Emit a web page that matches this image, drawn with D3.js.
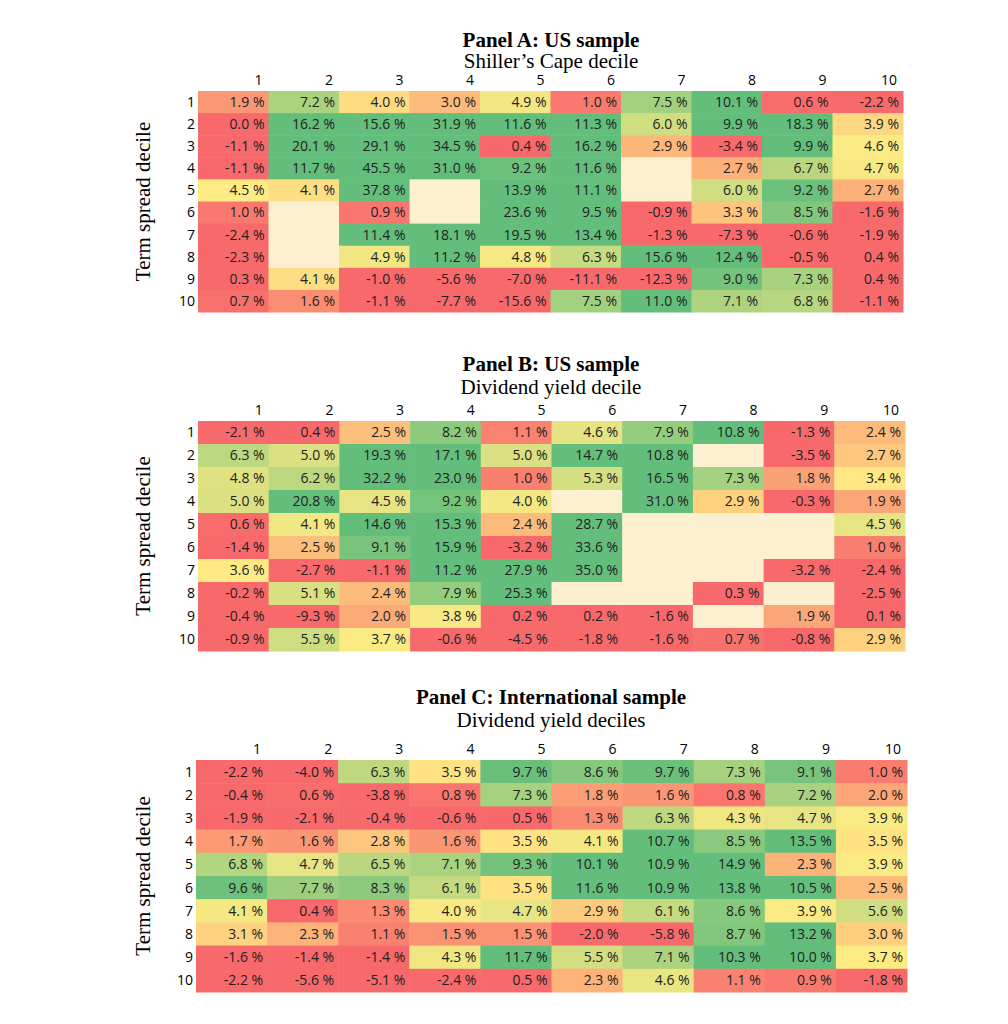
<!DOCTYPE html>
<html><head><meta charset="utf-8">
<script src="https://cdn.jsdelivr.net/npm/d3@7"></script>
<style>body{margin:0;background:#fff}</style>
</head><body>
<svg id="chart" width="1008" height="1024"></svg>
<script>
// null = empty cell
var panels = [
  {title:"Panel A: US sample", sub:"Shiller\u2019s Cape decile", ty:47, sy:68, top:91, bottom:312, left:198, right:903, dom:[0.5,4.5,9.5],
   rows:[
    [1.9,7.2,4.0,3.0,4.9,1.0,7.5,10.1,0.6,-2.2],
    [0.0,16.2,15.6,31.9,11.6,11.3,6.0,9.9,18.3,3.9],
    [-1.1,20.1,29.1,34.5,0.4,16.2,2.9,-3.4,9.9,4.6],
    [-1.1,11.7,45.5,31.0,9.2,11.6,null,2.7,6.7,4.7],
    [4.5,4.1,37.8,null,13.9,11.1,null,6.0,9.2,2.7],
    [1.0,null,0.9,null,23.6,9.5,-0.9,3.3,8.5,-1.6],
    [-2.4,null,11.4,18.1,19.5,13.4,-1.3,-7.3,-0.6,-1.9],
    [-2.3,null,4.9,11.2,4.8,6.3,15.6,12.4,-0.5,0.4],
    [0.3,4.1,-1.0,-5.6,-7.0,-11.1,-12.3,9.0,7.3,0.4],
    [0.7,1.6,-1.1,-7.7,-15.6,7.5,11.0,7.1,6.8,-1.1]]},
  {title:"Panel B: US sample", sub:"Dividend yield decile", ty:371, sy:394, top:421, bottom:651, left:198, right:905, dom:[0.5,3.5,10],
   rows:[
    [-2.1,0.4,2.5,8.2,1.1,4.6,7.9,10.8,-1.3,2.4],
    [6.3,5.0,19.3,17.1,5.0,14.7,10.8,null,-3.5,2.7],
    [4.8,6.2,32.2,23.0,1.0,5.3,16.5,7.3,1.8,3.4],
    [5.0,20.8,4.5,9.2,4.0,null,31.0,2.9,-0.3,1.9],
    [0.6,4.1,14.6,15.3,2.4,28.7,null,null,null,4.5],
    [-1.4,2.5,9.1,15.9,-3.2,33.6,null,null,null,1.0],
    [3.6,-2.7,-1.1,11.2,27.9,35.0,null,null,-3.2,-2.4],
    [-0.2,5.1,2.4,7.9,25.3,null,null,0.3,null,-2.5],
    [-0.4,-9.3,2.0,3.8,0.2,0.2,-1.6,null,1.9,0.1],
    [-0.9,5.5,3.7,-0.6,-4.5,-1.8,-1.6,0.7,-0.8,2.9]]},
  {title:"Panel C: International sample", sub:"Dividend yield deciles", ty:704, sy:727, top:760, bottom:992, left:196, right:907, dom:[0.5,3.7,10],
   rows:[
    [-2.2,-4.0,6.3,3.5,9.7,8.6,9.7,7.3,9.1,1.0],
    [-0.4,0.6,-3.8,0.8,7.3,1.8,1.6,0.8,7.2,2.0],
    [-1.9,-2.1,-0.4,-0.6,0.5,1.3,6.3,4.3,4.7,3.9],
    [1.7,1.6,2.8,1.6,3.5,4.1,10.7,8.5,13.5,3.5],
    [6.8,4.7,6.5,7.1,9.3,10.1,10.9,14.9,2.3,3.9],
    [9.6,7.7,8.3,6.1,3.5,11.6,10.9,13.8,10.5,2.5],
    [4.1,0.4,1.3,4.0,4.7,2.9,6.1,8.6,3.9,5.6],
    [3.1,2.3,1.1,1.5,1.5,-2.0,-5.8,8.7,13.2,3.0],
    [-1.6,-1.4,-1.4,4.3,11.7,5.5,7.1,10.3,10.0,3.7],
    [-2.2,-5.6,-5.1,-2.4,0.5,2.3,4.6,1.1,0.9,-1.8]]}
];

var svg = d3.select("#chart");
var deciles = d3.range(1,11);

panels.forEach(function(p){
  var x = d3.scaleBand().domain(deciles).range([p.left,p.right]);
  var y = d3.scaleBand().domain(deciles).range([p.top,p.bottom]);
  var color = d3.scaleLinear().domain(p.dom).range(["#f8696b","#ffeb84","#63be7b"]).clamp(true);
  var g = svg.append("g");

  g.append("text").attr("x",551).attr("y",p.ty).attr("text-anchor","middle")
    .attr("font-family","Liberation Serif").attr("font-weight","bold").attr("font-size",21).text(p.title);
  g.append("text").attr("x",551).attr("y",p.sy).attr("text-anchor","middle")
    .attr("font-family","Liberation Serif").attr("font-size",21).text(p.sub);
  g.append("text").attr("transform","translate(150,"+((p.top+p.bottom)/2)+") rotate(-90)")
    .attr("text-anchor","middle").attr("font-family","Liberation Serif").attr("font-size",21).text("Term spread decile");

  var cells = [];
  p.rows.forEach(function(r,i){ r.forEach(function(v,j){ cells.push({r:i+1,c:j+1,v:v}); }); });

  g.selectAll("rect").data(cells).enter().append("rect")
    .attr("x",function(d){return x(d.c);}).attr("y",function(d){return y(d.r);})
    .attr("width",x.bandwidth()+0.5).attr("height",y.bandwidth()+0.5)
    .attr("fill",function(d){return d.v===null ? "#fdf0d0" : color(d.v);});

  g.selectAll("text.v").data(cells.filter(function(d){return d.v!==null;})).enter().append("text")
    .attr("class","v").attr("x",function(d){return x(d.c)+x.bandwidth()-4;})
    .attr("y",function(d){return y(d.r)+y.bandwidth()/2;}).attr("dy","0.35em")
    .attr("text-anchor","end").attr("font-family","Open Sans").attr("font-size",14).attr("fill","#222")
    .text(function(d){return d.v.toFixed(1)+" %";});

  g.selectAll("text.ch").data(deciles).enter().append("text").attr("class","ch")
    .attr("x",function(d){return x(d)+x.bandwidth()-6;}).attr("y",p.top-6)
    .attr("text-anchor","end").attr("font-family","Open Sans").attr("font-size",14).text(function(d){return d;});
  g.selectAll("text.rh").data(deciles).enter().append("text").attr("class","rh")
    .attr("x",p.left-3).attr("y",function(d){return y(d)+y.bandwidth()/2;}).attr("dy","0.35em")
    .attr("text-anchor","end").attr("font-family","Open Sans").attr("font-size",14).text(function(d){return d;});
});
</script>
</body></html>
